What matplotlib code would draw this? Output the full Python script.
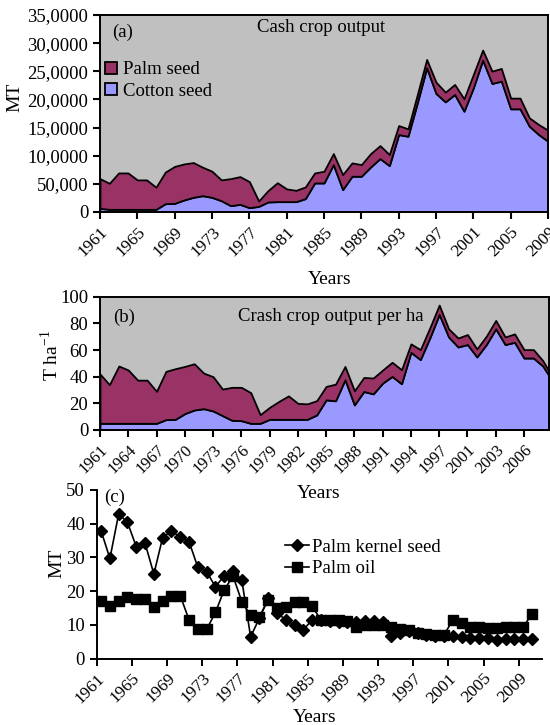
import numpy as np
import matplotlib
matplotlib.use("Agg")
import matplotlib.pyplot as plt
from matplotlib.patches import Patch
from matplotlib.lines import Line2D

plt.rcParams["font.family"] = ["Liberation Serif", "DejaVu Serif"]
plt.rcParams["mathtext.fontset"] = "custom"
plt.rcParams["mathtext.rm"] = "Liberation Serif"

# ---- data -------------------------------------------------------------
years = np.arange(1961, 2010)

# (a) cash crop output, MT (stacked: cotton at bottom, palm on top)
cotton_a = [6500, 4700, 4700, 4700, 4700, 4700, 4700, 14800, 15400, 21400,
            26100, 29000, 26000, 20000, 11300, 13600, 7700, 10000, 17800, 18400,
            18400, 18400, 23700, 51600, 51600, 84200, 39700, 63500, 63500, 80100,
            94900, 82400, 137600, 134600, 194000, 256200, 210600, 195700, 208800, 179100,
            220600, 269900, 228400, 232500, 183300, 183300, 152400, 137600, 125700]
palm_a = [52800, 46300, 64700, 64700, 52300, 52300, 39300, 56200, 65600, 64000,
          61700, 50500, 46400, 37000, 48000, 49300, 46300, 9600, 20200, 33600,
          22600, 20100, 20800, 17800, 20800, 19600, 26700, 23700, 20700, 23700,
          23100, 19600, 16000, 13100, 14800, 14800, 20100, 17200, 17800, 21900,
          23700, 17800, 21900, 22500, 19000, 19000, 14900, 17800, 19600]
ylabels_a = ["0", "50,000", "10,0000", "15,0000", "20,0000", "25,0000", "30,0000", "35,0000"]

# (b) cash crop output per ha
cotton_b = [5, 5, 5, 5, 5, 5, 5, 7.8, 8, 12.3,
            15, 16, 14.3, 10.8, 7.3, 7, 5, 5, 8, 8,
            8, 8, 8, 11.3, 22.6, 21.9, 37.7, 18.8, 28.9, 27.1,
            35.2, 40.2, 34.7, 58.3, 52.8, 69.1, 86.7, 69.8, 62.3, 64.1,
            54.8, 64.1, 75.9, 64.1, 65.8, 54, 54, 48, 37]
palm_b = [37, 29, 43, 40, 32.4, 32.4, 24, 36.2, 38, 35.4,
          34.7, 26.7, 25.7, 19.9, 24.7, 25, 23, 6.5, 9, 13.5,
          17.6, 12, 11.6, 10.7, 10.1, 12.5, 10, 10.6, 10.5, 11.9,
          9.8, 10.6, 10.5, 6.3, 7.5, 7.5, 7, 6.1, 6.7, 7.5,
          6, 6.3, 6.3, 5.7, 6.3, 6.3, 6.3, 4, 3]
ticks_b = np.arange(1961, 2007, 3)
ticklabels_b = ["1961", "1964", "1967", "1970", "1973", "1976", "1979", "1982",
                "1985", "1988", "1991", "1994", "1997", "2001", "2003", "2006"]

# (c) palm kernel seed and palm oil, MT
years_c = np.arange(1961, 2011)
kernel = [37.9, 29.7, 42.9, 40.4, 33.2, 34.2, 25.1, 35.9, 37.9, 36.0,
          34.7, 27.1, 25.8, 21.3, 24.6, 26.0, 23.3, 6.5, 12.0, 17.9,
          13.6, 11.5, 10.0, 8.6, 11.5, 11.5, 11.2, 11.0, 11.0, 11.0,
          11.3, 11.3, 11.0, 6.8, 7.5, 8.3, 7.5, 7.0, 6.7, 6.8,
          6.8, 6.5, 6.2, 6.0, 6.0, 5.5, 5.9, 5.9, 5.9, 5.9]
palm_oil = [17.2, 15.6, 17.2, 18.2, 17.7, 17.7, 15.3, 17.2, 18.7, 18.7,
            11.5, 8.7, 8.7, 13.7, 20.4, 24.5, 16.9, 12.9, 12.4, 17.4,
            14.9, 15.2, 16.7, 16.7, 15.5, 11.5, 11.5, 11.5, 11.3, 9.5,
            10.0, 10.0, 10.0, 9.5, 8.7, 8.5, 7.5, 7.3, 7.1, 7.1,
            11.5, 10.7, 9.5, 9.5, 9.0, 9.0, 9.5, 9.5, 9.5, 13.2]

palm_col = "#993366"
cotton_col = "#9999ff"
bg_col = "#c0c0c0"

fig = plt.figure(figsize=(5.5, 7.25), dpi=100)
W, H = 550., 725.

def axes_px(left, top, right, bottom):
    return fig.add_axes([left / W, 1 - bottom / H, (right - left) / W, (bottom - top) / H])

def xlabels_rot(ax, labels, size):
    ax.set_xticklabels(labels, rotation=45, ha="right", va="top",
                       rotation_mode="anchor", fontsize=size)

# ---- (a) --------------------------------------------------------------
ax1 = axes_px(100, 15, 548, 212)
ax1.set_facecolor(bg_col)
ax1.stackplot(years, cotton_a, palm_a, colors=[cotton_col, palm_col],
              edgecolor="black", linewidth=1.3)
ax1.set_xlim(1961, 2009)
ax1.set_ylim(0, 350000)
ax1.set_yticks(np.arange(0, 350001, 50000))
ax1.set_yticklabels(ylabels_a, fontsize=13.5)
ax1.set_xticks(np.arange(1961, 2010, 4))
xlabels_rot(ax1, [str(y) for y in range(1961, 2010, 4)], 12.5)
ax1.set_ylabel("MT", fontsize=14)
ax1.yaxis.set_label_coords(-0.172, 0.58)
ax1.text(0.05, 0.91, "(a)", transform=ax1.transAxes, fontsize=13.5, ha="center", va="center")
ax1.text(0.493, 0.939, "Cash crop output", transform=ax1.transAxes, fontsize=13.5,
         ha="center", va="center")
hand = [Patch(facecolor=palm_col, edgecolor="black", linewidth=1.3),
        Patch(facecolor=cotton_col, edgecolor="black", linewidth=1.3)]
ax1.legend(hand, ["Palm seed", "Cotton seed"], loc="upper left",
           bbox_to_anchor=(0.012, 0.765), frameon=False, fontsize=13.5,
           handlelength=0.6, handleheight=0.6, handletextpad=0.35,
           labelspacing=0.25, borderpad=0, borderaxespad=0)

# ---- (b) --------------------------------------------------------------
ax2 = axes_px(100, 296.7, 548.5, 430)
ax2.set_facecolor(bg_col)
ax2.stackplot(years, cotton_b, palm_b, colors=[cotton_col, palm_col],
              edgecolor="black", linewidth=1.3)
ax2.set_xlim(1961, 2008.6)
ax2.set_ylim(0, 100)
ax2.set_yticks(np.arange(0, 101, 20))
ax2.tick_params(axis="y", labelsize=13.5)
ax2.set_xticks(ticks_b)
xlabels_rot(ax2, ticklabels_b, 12)
ax2.set_ylabel(r"T ha$^{\mathregular{-1}}$", fontsize=14)
ax2.yaxis.set_label_coords(-0.085, 0.56)
ax2.text(0.054, 0.848, "(b)", transform=ax2.transAxes, fontsize=13.5, ha="center", va="center")
ax2.text(0.515, 0.848, "Crash crop output per ha", transform=ax2.transAxes,
         fontsize=13.5, ha="center", va="center")

for ax in (ax1, ax2):
    for s in ax.spines.values():
        s.set_linewidth(1.4)
    ax.tick_params(direction="out", length=5, width=1.5)

# ---- (c) --------------------------------------------------------------
ax3 = axes_px(96.7, 490, 541.7, 658.7)
ax3.plot(years_c, kernel, color="black", lw=1.2, marker="D", ms=6)
ax3.plot(years_c, palm_oil, color="black", lw=1.2, marker="s", ms=7.5)
ax3.set_xlim(1960.5, 2011.1)
ax3.set_ylim(0, 50)
ax3.set_yticks(np.arange(0, 51, 10))
ax3.tick_params(axis="y", labelsize=13.5)
ax3.set_xticks(np.arange(1961, 2010, 4) - 0.5)
xlabels_rot(ax3, [str(y) for y in range(1961, 2010, 4)], 12.5)
ax3.spines["top"].set_visible(False)
ax3.spines["right"].set_visible(False)
for s in ax3.spines.values():
    s.set_linewidth(1.4)
ax3.tick_params(direction="out", length=5, width=1.4)
ax3.set_ylabel("MT", fontsize=14)
ax3.yaxis.set_label_coords(-0.071, 0.567)
ax3.text(0.041, 0.958, "(c)", transform=ax3.transAxes, fontsize=13.5, ha="center", va="center")
hand = [Line2D([], [], color="black", lw=1.2, marker="D", ms=6),
        Line2D([], [], color="black", lw=1.2, marker="s", ms=7.5)]
ax3.legend(hand, ["Palm kernel seed", "Palm oil"], loc="upper left",
           bbox_to_anchor=(0.423, 0.713), frameon=False, fontsize=13.5,
           handlelength=1.3, handletextpad=0.15, labelspacing=0.25,
           borderpad=0, borderaxespad=0, numpoints=1)

# axis titles
fig.text(330 / W, 1 - 279 / H, "Years", fontsize=14, ha="center", va="center")
fig.text(319 / W, 1 - 493 / H, "Years", fontsize=14, ha="center", va="center")
fig.text(315 / W, 1 - 717 / H, "Years", fontsize=14, ha="center", va="center")

fig.savefig("out.png", dpi=100)
